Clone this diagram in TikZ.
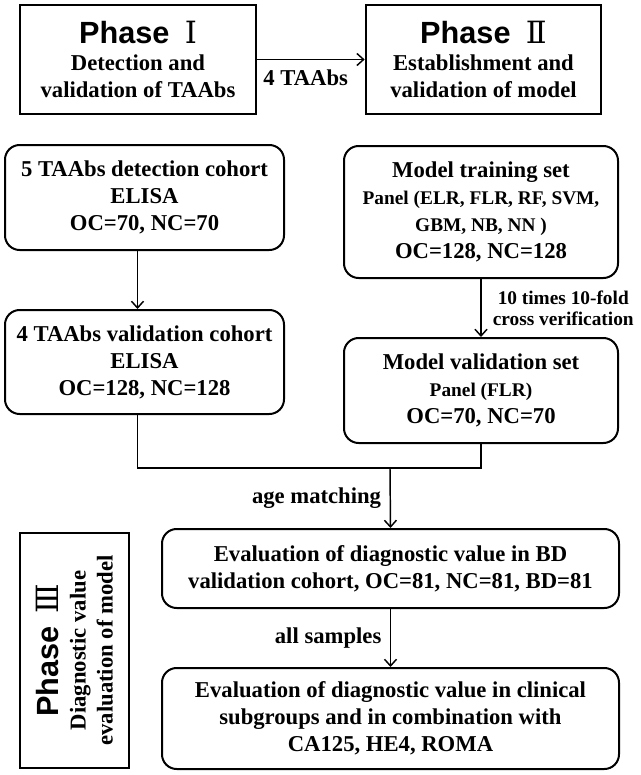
\documentclass[tikz,border=0pt]{standalone}
\usepackage{fontspec}
\setmainfont{Liberation Serif}
\setsansfont{Liberation Sans}
\newfontfamily\numfont{DejaVu Serif}
\usetikzlibrary{arrows.meta}

\newcommand{\phasefont}{\sffamily\bfseries\fontsize{23}{27}\selectfont}
\newcommand{\panelfont}{\fontsize{14.5}{18}\selectfont}

\tikzset{
    phasebox/.style={draw, line width=2pt, align=center, inner sep=0pt},
    stepbox/.style={draw, line width=1.5pt, rounded corners=11pt, align=center, inner sep=0pt},
    conn/.style={line width=1.1pt},
    arr/.style={conn, -{Straight Barb[length=5pt,width=9pt]}},
}

\begin{document}
\begin{tikzpicture}[x=0.75pt, y=-0.75pt, font=\bfseries\fontsize{17}{20.25}\selectfont]

    \useasboundingbox (0,0) rectangle (641,775);

    % phases
    \node[phasebox, minimum width=177pt, minimum height=81.75pt] (ph1) at (138,59.5)
        {{\phasefont Phase\hspace{0.5em}{\numfont\mdseries Ⅰ}}\\ Detection and\\ validation of TAAbs};
    \node[phasebox, minimum width=176.25pt, minimum height=81.75pt] (ph2) at (483.5,59.5)
        {{\phasefont Phase\hspace{0.5em}{\numfont\mdseries Ⅱ}}\\ Establishment and\\ validation of model};
    \node[phasebox, rotate=90, minimum width=176.25pt, minimum height=81.75pt] (ph3) at (74.5,650.5)
        {{\phasefont Phase\hspace{0.4em}{\numfont\mdseries Ⅲ}}\\ Diagnostic value\\ evaluation of model};

    \draw[arr] (ph1.east) -- node[below=4pt, pos=0.45] {4 TAAbs} (ph2.west);

    % left column
    \node[stepbox, minimum width=209.25pt, minimum height=78.75pt] (boxA) at (144.5,197.5)
        {5 TAAbs detection cohort\\ ELISA\\ OC=70, NC=70};
    \node[stepbox, minimum width=209.25pt, minimum height=78pt] (boxB) at (144.5,362)
        {4 TAAbs validation cohort\\ ELISA\\ OC=128, NC=128};

    % right column
    \node[stepbox, minimum width=205.5pt, minimum height=99pt] (boxC) at (481,212)
        {Model training set\\ {\panelfont Panel (ELR, FLR, RF, SVM,}\\ {\panelfont GBM, NB, NN )}\\ OC=128, NC=128};
    \node[stepbox, minimum width=205.5pt, minimum height=78.75pt] (boxD) at (481,390.5)
        {Model validation set\\ {\panelfont Panel (FLR)}\\ OC=70, NC=70};

    % bottom
    \node[stepbox, minimum width=342.75pt, minimum height=59.25pt] (boxE) at (390.5,568.5)
        {Evaluation of diagnostic value in BD\\ validation cohort, OC=81, NC=81, BD=81};
    \node[stepbox, minimum width=342.75pt, minimum height=75.75pt] (boxF) at (390.5,718.5)
        {Evaluation of diagnostic value in clinical\\ subgroups and in combination with\\ CA125, HE4, ROMA};

    \coordinate (jn) at (390,468);

    \draw[arr] ([xshift=-5.25pt]boxA.south) -- ([xshift=-5.25pt]boxB.north);
    \draw[arr] (boxC.south) -- node[right, xshift=5pt, align=center, font=\bfseries\fontsize{14.5}{16}\selectfont]
        {10 times 10-fold\\ cross verification} (boxD.north);
    \draw[conn] ([xshift=-5.25pt]boxB.south) |- (jn);
    \draw[conn] (boxD.south) |- (jn);
    \draw[arr] (jn) -- node[left, xshift=-3pt] {age matching} (boxE.north);
    \draw[arr] (boxE.south) -- node[left, xshift=-3pt] {all samples} (boxF.north);

\end{tikzpicture}
\end{document}
